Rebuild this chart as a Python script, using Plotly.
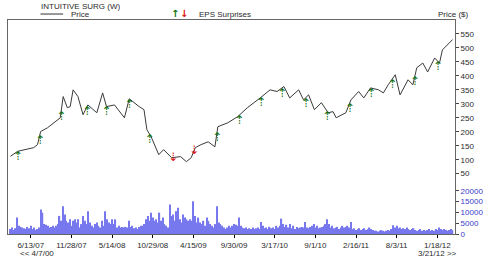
import numpy as np
import pandas as pd
import plotly.graph_objects as go

# ---------------- data ----------------
price_dates = ["2007-03-21","2007-04-20","2007-06-25","2007-07-11","2007-07-24","2007-08-21","2007-10-13","2007-10-25",
               "2007-11-11","2007-11-23","2007-12-05","2007-12-25","2008-01-15","2008-02-04","2008-03-12","2008-04-05",
               "2008-04-21","2008-05-24","2008-07-04","2008-07-24","2008-09-03","2008-09-23","2008-10-05","2008-10-22",
               "2008-11-23","2008-12-13","2009-01-15","2009-02-21","2009-03-17","2009-04-06","2009-04-23","2009-05-17",
               "2009-06-15","2009-07-13","2009-07-25","2009-09-04","2009-10-15","2009-11-16","2009-11-24","2010-01-16",
               "2010-02-26","2010-03-27","2010-04-24","2010-05-18","2010-06-24","2010-07-14","2010-08-04","2010-08-28",
               "2010-09-26","2010-10-24","2010-11-13","2010-11-26","2011-01-05","2011-01-26","2011-02-27","2011-03-20",
               "2011-04-17","2011-05-20","2011-06-09","2011-06-29","2011-07-28","2011-08-17","2011-09-19","2011-10-09",
               "2011-10-25","2011-11-19","2011-12-09","2012-01-07","2012-01-27","2012-02-08","2012-03-21"]
price_values = [112,130,143,154,201,214,250,326,286,290,350,326,261,296,268,339,290,296,250,318,290,279,207,183,
                118,136,107,111,93,107,143,154,164,146,218,232,254,279,286,321,350,344,362,321,350,314,332,279,
                304,268,272,250,268,314,344,321,357,350,339,368,404,332,386,368,429,446,414,464,446,493,530]

eps_up_dates = ["2007-04-20","2007-07-21","2007-10-17","2008-02-01","2008-04-20","2008-07-24","2008-10-16",
                "2009-07-22","2009-10-22","2010-01-20","2010-04-16","2010-07-23","2010-10-19","2011-01-21",
                "2011-04-19","2011-07-16","2011-10-17","2012-01-20"]
eps_down_dates = ["2009-01-21","2009-04-18"]

volume_start = "2007-03-21"
volume_values = [
    2300,3000,1800,2700,7600,3800,3300,3000,2700,2300,3300,2700,3800,2300,3000,1800,2300,3000,11400,9900,
    4600,4300,3800,3000,3300,3800,3000,3800,4600,8400,6100,12900,9100,6100,5300,6800,3800,6100,6800,5300,
    6800,3000,4600,8400,6100,4600,10600,5300,3800,3000,4600,5300,3800,3000,6100,3800,10600,6800,5300,4600,
    6800,4600,6800,3000,3800,3000,3300,3000,
    3300,3000,6100,3300,3800,2700,3000,2300,3300,3800,3800,4600,6800,8400,6100,9900,7600,6100,6800,5300,
    9900,6100,7600,4600,3800,3000,13700,8400,9100,6100,10600,12200,6800,5300,9100,7600,6800,6100,6800,6100,
    15200,8400,5300,7600,5300,4600,6100,3800,7600,6100,4600,3800,3000,4600,12900,5300,4600,3800,3000,2300,
    3000,3800,3000,3800,4600,4300,3800,
    7600,3800,3000,2700,3000,2300,2700,2300,3000,2300,2700,3000,2300,5600,3800,2700,3000,2300,3300,2700,
    3000,2300,3800,3000,3800,7100,4600,3300,4300,3000,4600,2700,3800,2300,3300,2700,3000,3300,3000,5600,
    3000,2700,3300,3800,4600,3000,3800,2700,3000,3300,3800,4600,6800,4600,3000,3800,2700,3000,3300,2300,
    3000,3800,3000,
    3300,3800,3000,5600,2300,2700,1800,2300,2700,1800,2300,2700,1800,2300,3000,2300,1800,1500,1500,1200,
    1500,1800,1500,1200,1500,1800,1500,2300,4100,3000,3800,2700,3000,2300,2700,2300,3000,2300,1800,2300,
    2700,1800,1500,1800,2300,1500,1800,1500,1800,2300,1500,1800,1500,2300,1800,3000,2300,1800,2300,1800,
    1500,1800,2300,1800]

xtick_dates = ["2007-06-13","2007-11-28","2008-05-14","2008-10-29","2009-04-15","2009-09-30",
               "2010-03-17","2010-09-01","2011-02-16","2011-08-03","2012-01-18"]
xtick_labels = ["6/13/07","11/28/07","5/14/08","10/29/08","4/15/09","9/30/09",
                "3/17/10","9/1/10","2/16/11","8/3/11","1/18/12"]
price_ticks = [50,100,150,200,250,300,350,400,450,500,550]
volume_ticks = [0,5000,10000,15000,20000]
volume_tick_labels = ["0","5000","10000","15000","20000"]

# ---------------- derived ----------------
vol_dates = pd.date_range(volume_start, periods=len(volume_values), freq="7D")
pd_dates = pd.to_datetime(price_dates)
pnum = pd_dates.astype("int64").to_numpy()

def price_at(dates):
    d = pd.to_datetime(dates).astype("int64").to_numpy()
    return np.interp(d, pnum, price_values)

W, H = 490, 257
ML, MR, MT, MB = 7, 29, 20, 22
PW, PH = W - ML - MR, H - MT - MB
def px(x): return (x - ML) / PW
def py(y): return (H - MB - y) / PH

TXT = "#2a2a2a"
FONT = "Liberation Sans, Arial, sans-serif"

fig = go.Figure()
fig.add_trace(go.Bar(x=vol_dates, y=volume_values, yaxis="y2",
                     marker=dict(color="#7878ee", line=dict(width=0)), hoverinfo="skip"))
fig.add_trace(go.Scatter(x=pd_dates, y=price_values, mode="lines",
                         line=dict(color="#3a3a3a", width=1), hoverinfo="skip"))
fig.add_trace(go.Scatter(x=pd.to_datetime(eps_up_dates), y=price_at(eps_up_dates), mode="text",
                         text=["⇡"] * len(eps_up_dates), textposition="bottom center",
                         textfont=dict(color="#0f700f", size=12, family="DejaVu Sans"), hoverinfo="skip"))
fig.add_trace(go.Scatter(x=pd.to_datetime(eps_down_dates), y=price_at(eps_down_dates), mode="text",
                         text=["⇣"] * len(eps_down_dates), textposition="middle center",
                         textfont=dict(color="#dd1111", size=12, family="DejaVu Sans"), hoverinfo="skip"))

fig.update_layout(
    width=W, height=H, margin=dict(l=ML, r=MR, t=MT, b=MB, pad=0),
    paper_bgcolor="white", plot_bgcolor="white", showlegend=False,
    bargap=0.25, font=dict(family=FONT, size=8, color=TXT),
    xaxis=dict(type="date", range=["2007-03-11", "2012-03-31"], tickvals=pd.to_datetime(xtick_dates),
               ticktext=xtick_labels, ticks="outside", ticklen=3, tickcolor="#000",
               showline=True, linecolor="#666", mirror=True, showgrid=False, zeroline=False,
               tickfont=dict(size=8, color=TXT)),
    yaxis=dict(side="right", range=[-166, 600], tickvals=price_ticks, ticks="outside", ticklen=3,
               tickcolor="#444", showline=True, linecolor="#666", mirror=True, showgrid=False,
               zeroline=False, tickfont=dict(size=8, color=TXT)),
    yaxis2=dict(side="right", overlaying="y", range=[0, 99300], tickvals=volume_ticks,
                ticktext=volume_tick_labels,
                ticks="outside", ticklen=3, tickcolor="#444", showline=False, showgrid=False,
                zeroline=False, tickfont=dict(size=8, color="#3a3ac8")),
)

ann = [
    dict(x=px(40), y=py(6), text="INTUITIVE SURG (W)", xanchor="left"),
    dict(x=px(70), y=py(14), text="Price", xanchor="left"),
    dict(x=px(200), y=py(14), text="EPS Surprises", xanchor="left"),
    dict(x=px(443), y=py(14), text="Price ($)", xanchor="left"),
    dict(x=px(18), y=py(254.5), text="<< 4/7/00", xanchor="left"),
    dict(x=px(422), y=py(254.5), text="3/21/12 >>", xanchor="left"),
]
for a in ann:
    fig.add_annotation(xref="paper", yref="paper", yanchor="middle", showarrow=False, borderpad=0,
                       font=dict(size=8, color=TXT, family=FONT), **a)
fig.add_annotation(xref="paper", yref="paper", x=px(177), y=py(13), yanchor="middle", text="<b>↑</b>",
                   showarrow=False, borderpad=0, font=dict(size=10, color="#117711", family="DejaVu Sans"))
fig.add_annotation(xref="paper", yref="paper", x=px(186), y=py(13), yanchor="middle", text="<b>↓</b>",
                   showarrow=False, borderpad=0, font=dict(size=10, color="#dd1111", family="DejaVu Sans"))
fig.add_shape(type="line", xref="paper", yref="paper", x0=px(40), x1=px(63), y0=py(14), y1=py(14),
              line=dict(color="#333", width=1))

fig.write_html("out.html", config={"displayModeBar": False})
